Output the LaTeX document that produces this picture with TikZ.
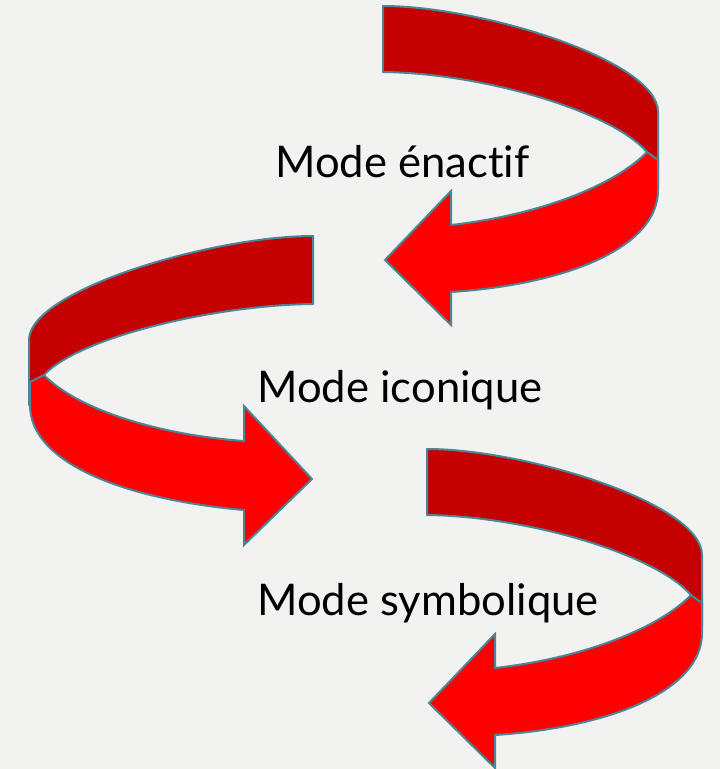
\documentclass[tikz,border=0pt]{standalone}
\usepackage{fontspec}
\setmainfont[Ligatures={NoCommon}]{Lato}
\definecolor{bgc}{RGB}{242,242,241}
\definecolor{darkr}{RGB}{196,0,0}
\definecolor{brightr}{RGB}{255,0,0}
\definecolor{edge}{RGB}{74,134,152}
\tikzset{
  backband/.style={fill=darkr, draw=edge, line width=2pt, line join=round},
  frontband/.style={fill=brightr, draw=edge, line width=2pt, line join=miter},
  lbl/.style={anchor=base west, inner sep=0pt, font=\fontsize{43.6}{48}\selectfont, text=black}
}
\begin{document}
\begin{tikzpicture}[x=1pt,y=-1pt]
\fill[bgc] (0,0) rectangle (720,769);
\useasboundingbox (0,0) rectangle (720,769);
% arrow 1 (top right, points left) and arrow 3 (same, shifted)
\foreach \dx/\dy in {0/0, 44/443}{
\begin{scope}[shift={(\dx,\dy)}]
\draw[backband] (383,6) .. controls (480,6) and (658,60) .. (658,112) -- (658,183) -- (647,152)
   .. controls (610,110) and (480,73) .. (383,72) -- cycle;
\draw[frontband] (647,152) .. controls (615,185) and (540,215) .. (451,225) -- (451,191) -- (385,260)
   -- (451,325) -- (451,292) .. controls (560,285) and (658,250) .. (658,190) -- (658,160) -- cycle;
\end{scope}
}
% arrow 2 (left, points right)
\draw[backband] (313,236) .. controls (213,236) and (29,290) .. (29,340) -- (29,405) -- (44,375)
   .. controls (78,338) and (213,305) .. (313,304) -- cycle;
\draw[frontband] (44,375) .. controls (78,410) and (160,435) .. (244,441) -- (244,406) -- (312,479)
   -- (244,545) -- (244,510) .. controls (130,500) and (30,465) .. (30,405) -- (30,382) -- cycle;
% labels
\node[lbl] (enactif) at (275,177) {Mode énactif};
\node[lbl] (iconique) at (257,402) {Mode iconique};
\node[lbl] (symbolique) at (257,615) {Mode symbolique};
\end{tikzpicture}
\end{document}
